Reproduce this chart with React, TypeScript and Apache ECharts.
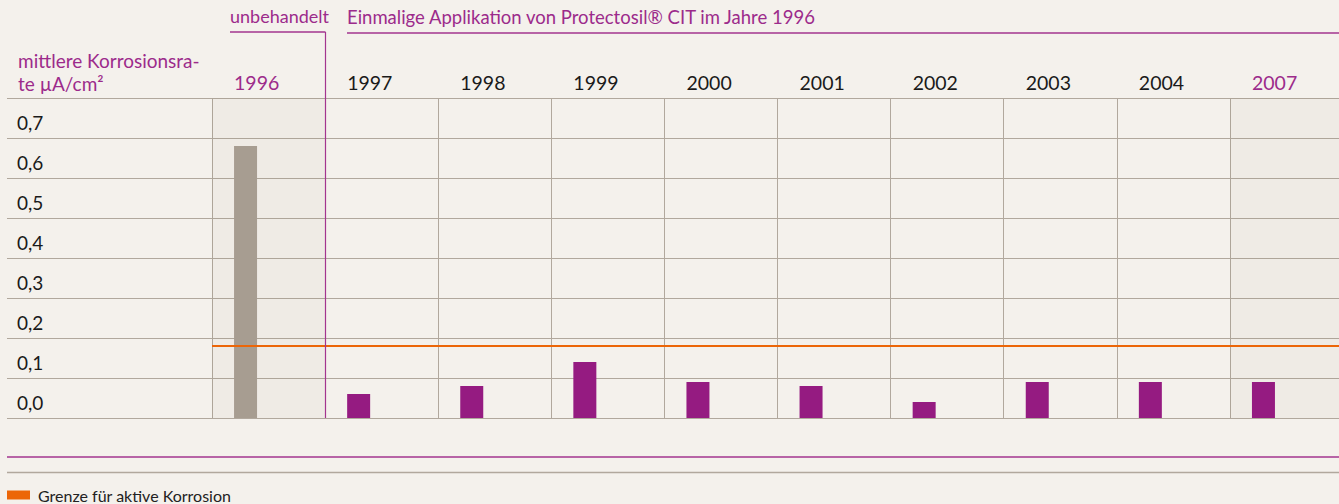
import React, { useEffect, useRef } from "react";
import * as echarts from "echarts";

const years = ["1996", "1997", "1998", "1999", "2000", "2001", "2002", "2003", "2004", "2007"];
const rates = [0.68, 0.06, 0.08, 0.14, 0.09, 0.08, 0.04, 0.09, 0.09, 0.09];
const untreatedYears = ["1996"];
const highlightYears = ["1996", "2007"];
const limitValue = 0.18;
const limitName = "Grenze für aktive Korrosion";
const yTitle = "mittlere Korrosionsra-\nte µA/cm²";
const headUntreated = "unbehandelt";
const headTreated = "Einmalige Applikation von Protectosil® CIT im Jahre 1996";

const PURPLE = "#951b81";
const PURPLE_LINE = "#a3358f";
const PURPLE_TXT = "#9c2b8b";
const GREY_BAR = "#a79d91";
const GRID = "#b1a89d";
const ORANGE = "#ec6608";
const BG = "#f4f1ec";
const FONT = "Lato, 'Open Sans', sans-serif";

export default function App() {
  const ref = useRef<HTMLDivElement>(null);
  useEffect(() => {
    if (!ref.current) return;
    const chart = echarts.init(ref.current, null, { renderer: "svg" });
    const barData = years.map((y, i) => ({
      value: rates[i],
      itemStyle: { color: untreatedYears.includes(y) ? GREY_BAR : PURPLE },
    }));
    const yLab = (v: number) => (v >= 0.79 ? "" : v.toFixed(1).replace(".", ","));
    chart.setOption({
      animation: false,
      backgroundColor: BG,
      textStyle: { fontFamily: FONT },
      grid: [
        { left: 7, top: 98, width: 205, height: 320 },
        { left: 212, top: 98, width: 1131, height: 320 },
      ],
      xAxis: [
        { gridIndex: 0, type: "value", min: 0, max: 1, show: false },
        {
          gridIndex: 1,
          type: "category",
          data: years,
          position: "top",
          axisLine: { show: true, lineStyle: { color: GRID, width: 1 } },
          axisTick: { show: false },
          splitLine: { show: true, lineStyle: { color: GRID, width: 1 } },
          axisLabel: {
            margin: 6,
            formatter: (v: string) => (highlightYears.includes(v) ? `{p|${v}}` : `{k|${v}}`),
            rich: {
              p: { width: 69, align: "left", color: PURPLE_TXT, fontSize: 19.5, fontFamily: FONT },
              k: { width: 69, align: "left", color: "#1a1a1a", fontSize: 19.5, fontFamily: FONT },
            },
          },
        },
      ],
      yAxis: [
        {
          gridIndex: 0,
          type: "value",
          min: 0,
          max: 0.8,
          interval: 0.1,
          axisLine: { show: false },
          axisTick: { show: false },
          splitLine: { show: true, lineStyle: { color: GRID, width: 1 } },
          axisLabel: {
            inside: true,
            margin: 10,
            align: "left",
            verticalAlign: "bottom",
            padding: [0, 0, 6, 0],
            color: "#1a1a1a",
            fontSize: 19,
            fontFamily: FONT,
            formatter: yLab,
          },
        },
        {
          gridIndex: 1,
          type: "value",
          min: 0,
          max: 0.8,
          interval: 0.1,
          axisLine: { show: false },
          axisTick: { show: false },
          axisLabel: { show: false },
          splitLine: { show: true, lineStyle: { color: GRID, width: 1 } },
        },
      ],
      legend: {
        data: [limitName],
        left: 7,
        top: 487,
        padding: 0,
        icon: "rect",
        itemWidth: 23,
        itemHeight: 9,
        textStyle: { fontSize: 16, color: "#222", fontFamily: FONT, padding: [0, 0, 0, 3] },
      },
      series: [
        {
          name: "Korrosionsrate",
          type: "bar",
          xAxisIndex: 1,
          yAxisIndex: 1,
          barWidth: 23,
          barGap: "0%",
          data: barData,
          markArea: {
            silent: true,
            itemStyle: { color: "rgba(120, 90, 60, 0.035)" },
            data: highlightYears.map((y) => [{ xAxis: y }, { xAxis: y }]),
          },
        },
        { name: "pad1", type: "bar", xAxisIndex: 1, yAxisIndex: 1, barWidth: 23, barGap: "0%", data: years.map(() => null) },
        { name: "pad2", type: "bar", xAxisIndex: 1, yAxisIndex: 1, barWidth: 23, barGap: "0%", data: years.map(() => null) },
        {
          name: limitName,
          type: "line",
          xAxisIndex: 1,
          yAxisIndex: 1,
          data: [],
          itemStyle: { color: ORANGE },
          lineStyle: { color: ORANGE },
          markLine: {
            silent: true,
            symbol: "none",
            label: { show: false },
            lineStyle: { color: ORANGE, width: 2, type: "solid" },
            data: [{ yAxis: limitValue }],
          },
        },
      ],
      graphic: [
        {
          type: "text",
          left: 230,
          top: 7,
          style: { text: headUntreated, fill: PURPLE_TXT, font: `18px ${FONT}` },
        },
        { type: "line", z: 100, shape: { x1: 230, y1: 32, x2: 325.5, y2: 32 }, style: { stroke: PURPLE_LINE, lineWidth: 1.5 } },
        { type: "line", z: 100, shape: { x1: 325.5, y1: 32, x2: 325.5, y2: 418 }, style: { stroke: PURPLE_LINE, lineWidth: 1.2 } },
        {
          type: "text",
          left: 347,
          top: 7,
          style: { text: headTreated, fill: PURPLE_TXT, font: `18.5px ${FONT}` },
        },
        { type: "line", shape: { x1: 347, y1: 33, x2: 1345, y2: 33 }, style: { stroke: PURPLE_LINE, lineWidth: 1.5 } },
        {
          type: "text",
          left: 18,
          top: 49,
          style: { text: yTitle, fill: PURPLE_TXT, font: `19px ${FONT}`, lineHeight: 23 },
        },
        { type: "line", shape: { x1: 7, y1: 457, x2: 1345, y2: 457 }, style: { stroke: PURPLE_LINE, lineWidth: 1.5 } },
        { type: "line", shape: { x1: 7, y1: 472.5, x2: 1345, y2: 472.5 }, style: { stroke: GRID, lineWidth: 1.5 } },
      ],
    });
    return () => chart.dispose();
  }, []);
  return (
    <div style={{ position: "absolute", left: 0, top: 0, width: 1339, height: 504, overflow: "hidden" }}>
      <div ref={ref} style={{ width: 1346, height: 504 }} />
    </div>
  );
}
